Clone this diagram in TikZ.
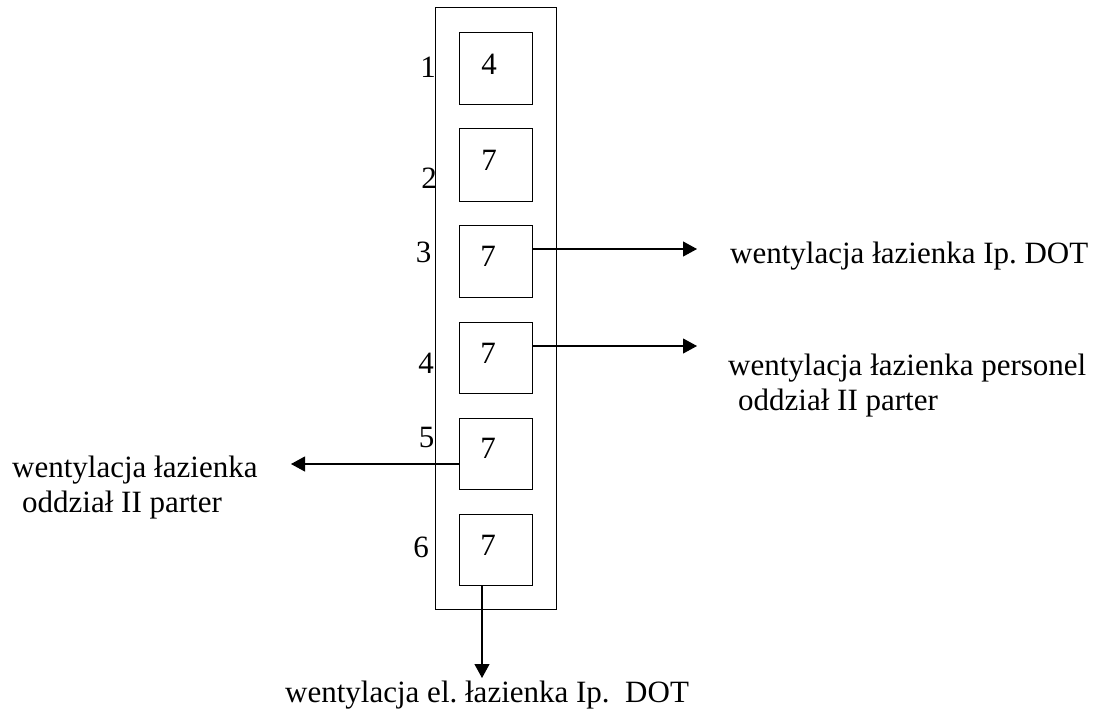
\documentclass[tikz,border=0pt]{standalone}
\usepackage{fontspec}
\setmainfont{Liberation Serif}
\usetikzlibrary{arrows.meta}
\frenchspacing
\begin{document}
\begin{tikzpicture}[x=1pt,y=-1pt,
  box/.style={draw,line width=1.1pt,minimum width=73pt,minimum height=72pt,anchor=north west,inner sep=0pt},
  lbl/.style={font=\fontsize{31}{36}\selectfont,inner sep=0pt,anchor=base},
  txt/.style={font=\fontsize{31}{36}\selectfont,inner sep=0pt,anchor=base west},
  arr/.style={line width=1.1pt,-{Triangle[length=14pt,width=15pt]}}]
\useasboundingbox (0,0) rectangle (1100,713);
\node[box,minimum width=121pt,minimum height=602pt] (outer) at (435,7) {};
\node[box] (b1) at (459,32) {};
\node[box,minimum height=73pt] (b2) at (459,128) {};
\node[box] (b3) at (459,225) {};
\node[box,minimum height=71pt] (b4) at (459,322) {};
\node[box,minimum height=71pt] (b5) at (459,418) {};
\node[box,minimum height=71pt] (b6) at (459,514) {};
% numbers inside boxes
\node[lbl] (n1) at (489,74) {4};
\node[lbl] (n2) at (489,170) {7};
\node[lbl] (n3) at (488,266) {7};
\node[lbl] (n4) at (488,363) {7};
\node[lbl] (n5) at (488,458) {7};
\node[lbl] (n6) at (488,555) {7};
% side numbers
\node[lbl] (l1) at (428,77) {1};
\node[lbl] (l2) at (429,188) {2};
\node[lbl] (l3) at (423.5,262) {3};
\node[lbl] (l4) at (426,373) {4};
\node[lbl] (l5) at (426.5,447) {5};
\node[lbl] (l6) at (421,557) {6};
% connectors
\coordinate (t3) at (697,249);
\draw[arr] (b3.east |- t3) -- (t3);
\coordinate (t4) at (697,346);
\draw[arr] (b4.east |- t4) -- (t4);
\coordinate (t5) at (291,464);
\draw[arr] (b5.west |- t5) -- (t5);
\coordinate (t6) at (482,678);
\draw[arr] (b6.south -| t6) -- (t6);
% texts
\node[txt] (r1) at (730,263) {wentylacja łazienka Ip. DOT};
\node[txt] (r2a) at (728,375) {wentylacja łazienka personel};
\node[txt] (r2b) at (738,410) {oddział II parter};
\node[txt] (lt1) at (12,477) {wentylacja łazienka};
\node[txt] (lt2) at (22,512) {oddział II parter};
\node[txt] (bt) at (285,702) {wentylacja el. łazienka Ip.\ \ DOT};
\end{tikzpicture}
\end{document}
